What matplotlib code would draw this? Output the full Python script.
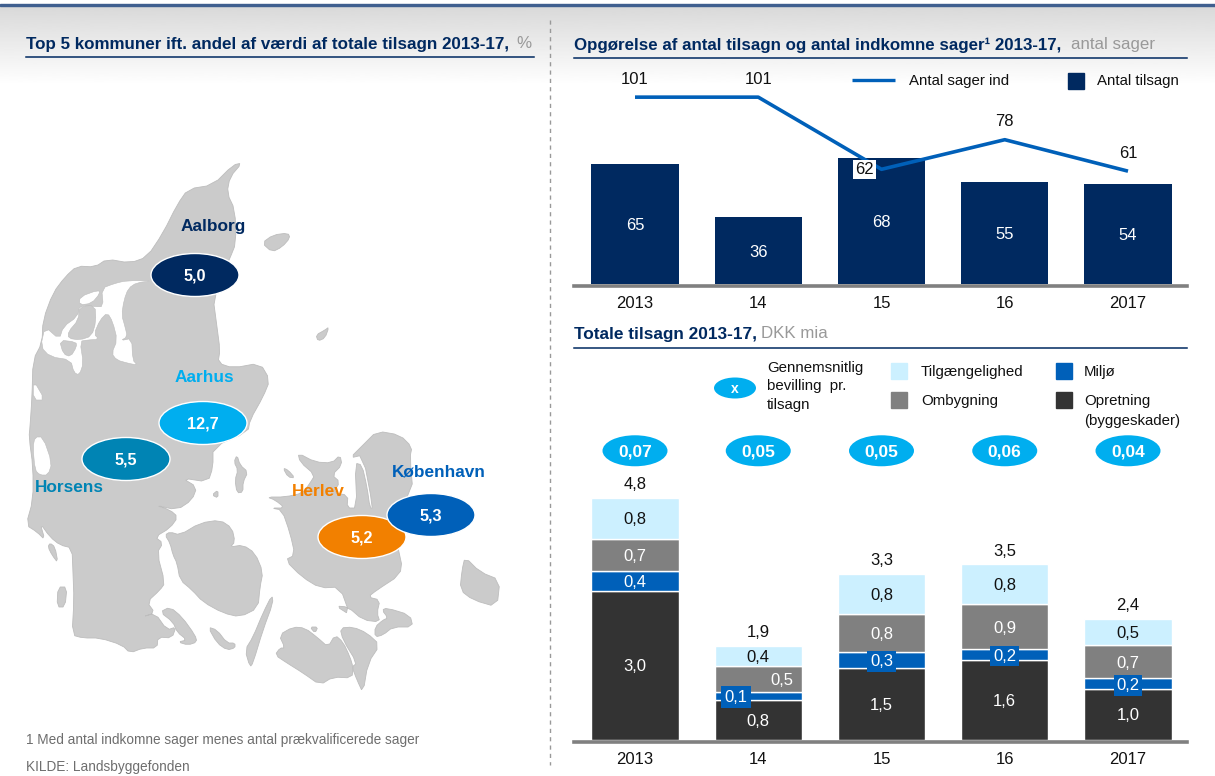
import numpy as np
import matplotlib
matplotlib.use("Agg")
import matplotlib.pyplot as plt
from matplotlib.patches import Ellipse, Polygon, Rectangle

plt.rcParams["font.family"] = ["Liberation Sans", "DejaVu Sans"]

NAVY = "#002960"
LIGHT = "#00AEEF"
BLUE = "#0060B9"
GREY_TXT = "#999999"

years = ["2013", "14", "15", "16", "2017"]

# upper chart
tilsagn = [65, 36, 68, 55, 54]
sager_ind = [101, 101, 62, 78, 61]

# lower chart, segment heights
opretning = [2.96, 0.79, 1.43, 1.59, 1.00]
miljo = [0.38, 0.15, 0.30, 0.20, 0.22]
ombygning = [0.65, 0.53, 0.76, 0.91, 0.66]
tilgaengelighed = [0.81, 0.39, 0.80, 0.78, 0.52]
opretning_lbl = ["3,0", "0,8", "1,5", "1,6", "1,0"]
miljo_lbl = ["0,4", "0,1", "0,3", "0,2", "0,2"]
ombygning_lbl = ["0,7", "0,5", "0,8", "0,9", "0,7"]
tilgaengelighed_lbl = ["0,8", "0,4", "0,8", "0,8", "0,5"]
total_lbl = ["4,8", "1,9", "3,3", "3,5", "2,4"]
bevilling_lbl = ["0,07", "0,05", "0,05", "0,06", "0,04"]

# municipalities
kommuner = ["Aalborg", "Aarhus", "Horsens", "Herlev", "København"]
kommune_val = ["5,0", "12,7", "5,5", "5,2", "5,3"]
kommune_col = [NAVY, LIGHT, "#0084B4", "#F28000", BLUE]
kommune_txt = [(213, 227), (204, 377), (69, 487), (318, 492), (439, 472)]
kommune_bub = [(195, 275), (203, 423), (126, 459), (362, 537), (431, 515)]

# map outlines, traced in page pixels
jutland = [(242,163),(233,165),(213,185),(188,189),(177,205),(163,233),(147,257),(130,263),
           (107,259),(95,267),(77,266),(65,277),(53,293),(43,320),(42,343),(33,360),(32,397),
           (30,427),(29,437),(33,467),(33,500),(26,525),(37,532),(45,540),(40,523),(50,537),
           (60,545),(72,548),(73,573),(74,600),(72,635),(83,638),(100,638),(122,645),(130,653),
           (143,648),(157,648),(158,637),(172,638),(176,627),(167,630),(155,613),(142,617),
           (155,613),(147,602),(160,590),(165,583),(157,553),(163,543),(155,537),(170,528),
           (178,517),(170,510),(155,505),(177,510),(192,500),(197,487),(182,478),(208,482),
           (213,467),(213,447),(248,432),(250,420),(263,397),(270,380),(260,363),(233,368),
           (218,363),(220,350),(217,327),(213,297),(230,258),(236,243),(235,210),(227,193),
           (230,177)]
# fjord shapes, traced at 3x from the top left of the crop at (0,130)
limfjord_3x = [(460,452),(410,458),(385,475),(372,510),(365,555),(375,590),(382,620),(362,632),
               (395,625),(398,690),(412,705),(385,700),(350,690),(335,670),(352,630),(338,575),
               (322,548),(300,570),(282,612),(297,628),(262,630),(240,634),(250,700),(238,735),
               (222,728),(212,690),(150,680),(122,650),(135,590),(178,628),(190,590),(232,560),
               (240,525),(285,530),(310,530),(305,475),(345,460),(380,452)]
thy_strip_3x = [(240,500),(295,480),(300,490),(275,520),(238,525)]
mors_3x = [(205,605),(235,570),(238,530),(285,525),(288,575),(275,618),(240,630),(205,625)]
venoe_3x = [(178,630),(228,636),(230,650),(212,680),(190,672)]
nissum_3x = [(100,750),(135,810),(100,810)]
laeso = [(262,243),(273,235),(288,233),(290,238),(282,247),(272,252)]
anholt = [(316,335),(325,330),(329,327),(325,338),(318,341)]
ringkobing = [(35,437),(43,437),(52,463),(48,475),(40,475),(35,470),(33,447)]
fyn = [(170,532),(180,535),(200,523),(220,520),(232,528),(235,542),(230,547),(243,545),(255,553),
       (263,572),(260,587),(258,608),(240,617),(223,613),(203,602),(192,590),(180,580),(177,563),
       (173,555),(170,543),(165,535)]
langeland = [(272,595),(273,603),(263,630),(253,663),(250,667),(245,650),(253,637),(263,613)]
aero = [(208,627),(217,630),(227,643),(235,643),(235,648),(227,650),(217,643)]
als = [(160,612),(170,607),(182,617),(195,635),(197,642),(188,645),(178,642),(187,640),(177,632),(173,622)]
romo = [(50,543),(55,547),(58,563),(52,555),(48,547)]
fano = [(58,587),(67,587),(65,607),(57,607)]
samso = [(237,455),(240,465),(248,472),(243,482),(243,492),(237,493),(235,480),(238,470),(234,462)]
endelave = [(212,495),(218,490),(218,498)]
sjaelland = [(267,497),(285,497),(303,493),(310,483),(315,475),(300,462),(298,453),(315,462),
             (332,463),(340,455),(342,465),(332,475),(340,482),(333,493),(348,495),(347,508),
             (357,508),(355,463),(362,465),(367,487),(370,508),(373,508),(363,455),(350,458),
             (363,445),(377,431),(400,435),(412,447),(410,457),(413,493),(387,515),(402,560),
             (400,575),(377,590),(368,597),(380,600),(377,613),(380,622),(363,620),(348,607),
             (336,606),(350,615),(340,587),(320,588),(302,577),(285,560),(295,555),(290,533),
             (282,510),(271,508),(285,508),(275,500)]
lolland = [(275,655),(280,648),(285,648),(279,635),(293,627),(305,628),(318,638),(328,647),(335,635),
           (343,642),(350,657),(353,667),(352,678),(333,677),(320,685),(303,673),(287,663)]
falster = [(340,628),(353,627),(367,633),(380,645),(368,663),(363,693),(357,680),(352,667),(357,663),(343,640)]
mon = [(375,627),(383,620),(388,618),(382,610),(387,608),(410,615),(413,627),(393,627),(383,635),(375,637)]
bornholm = [(465,557),(480,572),(500,580),(497,607),(473,600),(460,590),(462,570)]
smaa = [[(283,468),(288,470),(295,478),(288,477)], [(310,627),(318,627),(315,633)]]


def from_crop(pts):
    return [(px / 3, py / 3 + 130) for px, py in pts]


def rounded(pts):
    # one pass of corner cutting so the coast does not look angular
    p = np.array(pts, dtype=float)
    q = np.roll(p, -1, axis=0)
    out = np.empty((len(p) * 2, 2))
    out[0::2] = 0.75 * p + 0.25 * q
    out[1::2] = 0.25 * p + 0.75 * q
    return out


fig = plt.figure(figsize=(12.15, 7.76), dpi=100)

# page layer in pixel coordinates
bg = fig.add_axes([0, 0, 1, 1])
grad = np.linspace(0.85, 1.0, 100).reshape(-1, 1)
bg.imshow(grad, extent=[0, 1215, 85, 6], cmap="gray", vmin=0, vmax=1, aspect="auto", zorder=0)
bg.set_xlim(0, 1215)
bg.set_ylim(776, 0)
bg.axis("off")
bg.add_patch(Rectangle((0, 4), 1215, 2, color="#3F5F8F", zorder=1))
bg.plot([550, 550], [20, 765], color="#999999", lw=1, ls=(0, (3, 3)), zorder=1)

for x0, x1, y in [(26, 534, 56.5), (574, 1187, 57.5), (574, 1187, 347.5)]:
    bg.plot([x0, x1], [y, y], color=NAVY, lw=1.1, zorder=2)

bg.text(26, 44, "Top 5 kommuner ift. andel af værdi af totale tilsagn 2013-17,", color=NAVY,
        fontsize=12.25, fontweight="bold", va="center")
bg.text(516, 44, "%", color=GREY_TXT, fontsize=12.25, va="center")
bg.text(574, 45, "Opgørelse af antal tilsagn og antal indkomne sager¹ 2013-17,", color=NAVY,
        fontsize=12.2, fontweight="bold", va="center")
bg.text(1071, 45, "antal sager", color=GREY_TXT, fontsize=12.2, va="center")
bg.text(574, 334, "Totale tilsagn 2013-17,", color=NAVY, fontsize=12.4, fontweight="bold", va="center")
bg.text(761, 334, "DKK mia", color=GREY_TXT, fontsize=12.2, va="center")

for shape in [jutland, laeso, anholt, fyn, langeland, aero, als, romo, fano, samso, endelave,
              sjaelland, lolland, falster, mon, bornholm] + smaa:
    bg.add_patch(Polygon(rounded(shape), closed=True, fc="#CBCBCB", ec="#BDBDBD", lw=0.6, zorder=3))
for shape in [from_crop(limfjord_3x), from_crop(thy_strip_3x), from_crop(nissum_3x), ringkobing]:
    bg.add_patch(Polygon(rounded(shape), closed=True, fc="white", ec="#BDBDBD", lw=0.4, zorder=4))
for shape in [from_crop(mors_3x), from_crop(venoe_3x)]:
    bg.add_patch(Polygon(rounded(shape), closed=True, fc="#CBCBCB", ec="#BDBDBD", lw=0.4, zorder=4.5))

for name, val, col, tpos, bpos in zip(kommuner, kommune_val, kommune_col, kommune_txt, kommune_bub):
    bg.add_patch(Ellipse(bpos, 88, 43, fc=col, ec="white", lw=1, zorder=5))
    bg.text(bpos[0], bpos[1] + 1, val, color="white", fontsize=11.7, fontweight="bold",
            ha="center", va="center", zorder=6)
    bg.text(tpos[0], tpos[1], name, color=col, fontsize=12.4, fontweight="bold",
            ha="center", va="center", zorder=6)

bg.text(26, 740, "1 Med antal indkomne sager menes antal prækvalificerede sager", color="#6E6E6E",
        fontsize=9.8, va="center")
bg.text(26, 767, "KILDE: Landsbyggefonden", color="#6E6E6E", fontsize=9.8, va="center")

# upper legend
bg.plot([852, 895], [80, 80], color=BLUE, lw=2.4, solid_capstyle="butt")
bg.text(909, 81, "Antal sager ind", fontsize=10.8, va="center", color="#111111")
bg.add_patch(Rectangle((1068, 73), 16, 16, color=NAVY))
bg.text(1097, 81, "Antal tilsagn", fontsize=10.8, va="center", color="#111111")

# lower legend
bg.add_patch(Ellipse((735, 388), 42, 21, fc=LIGHT, ec="none"))
bg.text(735, 389, "x", color="white", fontsize=10, fontweight="bold", ha="center", va="center")
for y, s in zip([368, 386, 405], ["Gennemsnitlig", "bevilling  pr.", "tilsagn"]):
    bg.text(767, y, s, fontsize=10.8, va="center", color="#111111")
for x, y, c, s, tx in [(891, 363, "#CCF0FF", "Tilgængelighed", 921), (891, 392, "#808080", "Ombygning", 921),
                       (1056, 363, BLUE, "Miljø", 1084), (1056, 392, "#333333", "Opretning", 1084)]:
    bg.add_patch(Rectangle((x, y), 16, 16, color=c))
    bg.text(tx, y + 9, s, fontsize=10.8, va="center", color="#111111")
bg.text(1084, 421, "(byggeskader)", fontsize=10.8, va="center", color="#111111")


def chart_axes(y_base, y_top, px_per_unit):
    ax = fig.add_axes([574 / 1215, 1 - y_base / 776, 613 / 1215, (y_base - y_top) / 776])
    ax.patch.set_alpha(0)
    ax.set_xlim((574 - 635) / 123.25, (1187 - 635) / 123.25)
    ax.set_ylim(0, (y_base - y_top) / px_per_unit)
    for s in ["top", "left", "right"]:
        ax.spines[s].set_visible(False)
    ax.spines["bottom"].set_color("#808080")
    ax.spines["bottom"].set_linewidth(2.6)
    ax.spines["bottom"].set_position(("outward", 1.5))
    ax.set_yticks([])
    ax.set_xticks(range(len(years)))
    ax.set_xticklabels(years, fontsize=12, color="#111111")
    ax.tick_params(axis="x", length=0, pad=7.2)
    return ax


# upper chart
x = np.arange(len(years))
ax1 = chart_axes(284, 70, 1.85)
ax1.bar(x, tilsagn, width=0.706, color=NAVY)
for i, v in enumerate(tilsagn):
    ax1.text(i, v / 2 - 1, str(v), color="white", fontsize=12, ha="center", va="center")
ax1.plot(x, sager_ind, color=BLUE, lw=2.6, solid_capstyle="butt")
for i, v in enumerate(sager_ind):
    if v == 62:
        ax1.text(i - 0.14, v, str(v), fontsize=12, ha="center", va="center", color="#111111",
                 bbox=dict(fc="white", ec="none", pad=1.5))
    else:
        ax1.annotate(str(v), (i, v), xytext=(0, 13), textcoords="offset points", fontsize=12,
                     ha="center", va="center", color="#111111")

# lower chart
ax2 = chart_axes(739.5, 430, 50.3)
segments = [(opretning, opretning_lbl, "#333333"), (miljo, miljo_lbl, BLUE),
            (ombygning, ombygning_lbl, "#808080"), (tilgaengelighed, tilgaengelighed_lbl, "#CCF0FF")]
bottom = np.zeros(len(years))
for vals, lbls, col in segments:
    vals = np.array(vals)
    ax2.bar(x, vals, width=0.706, bottom=bottom, color=col, edgecolor="white", linewidth=1)
    for i, s in enumerate(lbls):
        xp = i
        if col == BLUE and i == 1:
            xp = i - 0.18
        if col == "#808080" and i == 1:
            xp = i + 0.19
        box = None
        if col == BLUE and i > 0:
            box = dict(fc=BLUE, ec="none", pad=2)
        if col == BLUE and i == 1:
            box = dict(fc=BLUE, ec="none", pad=2.5)
        ax2.text(xp, bottom[i] + vals[i] / 2 - 0.03, s, fontsize=12, ha="center", va="center",
                 color="#111111" if col == "#CCF0FF" else "white", bbox=box)
    bottom = bottom + vals

for i, s in enumerate(total_lbl):
    ax2.annotate(s, (i, bottom[i]), xytext=(0, 9.5), textcoords="offset points", fontsize=12,
                 ha="center", va="center", color="#111111")

for i, s in enumerate(bevilling_lbl):
    ax2.add_patch(Ellipse((i, 5.74), 65 / 123.25, 31 / 50.3, fc=LIGHT, ec="none", clip_on=False))
    ax2.text(i, 5.72, s, color="white", fontsize=12.5, fontweight="bold", ha="center", va="center")

fig.savefig("out.png", dpi=100)
